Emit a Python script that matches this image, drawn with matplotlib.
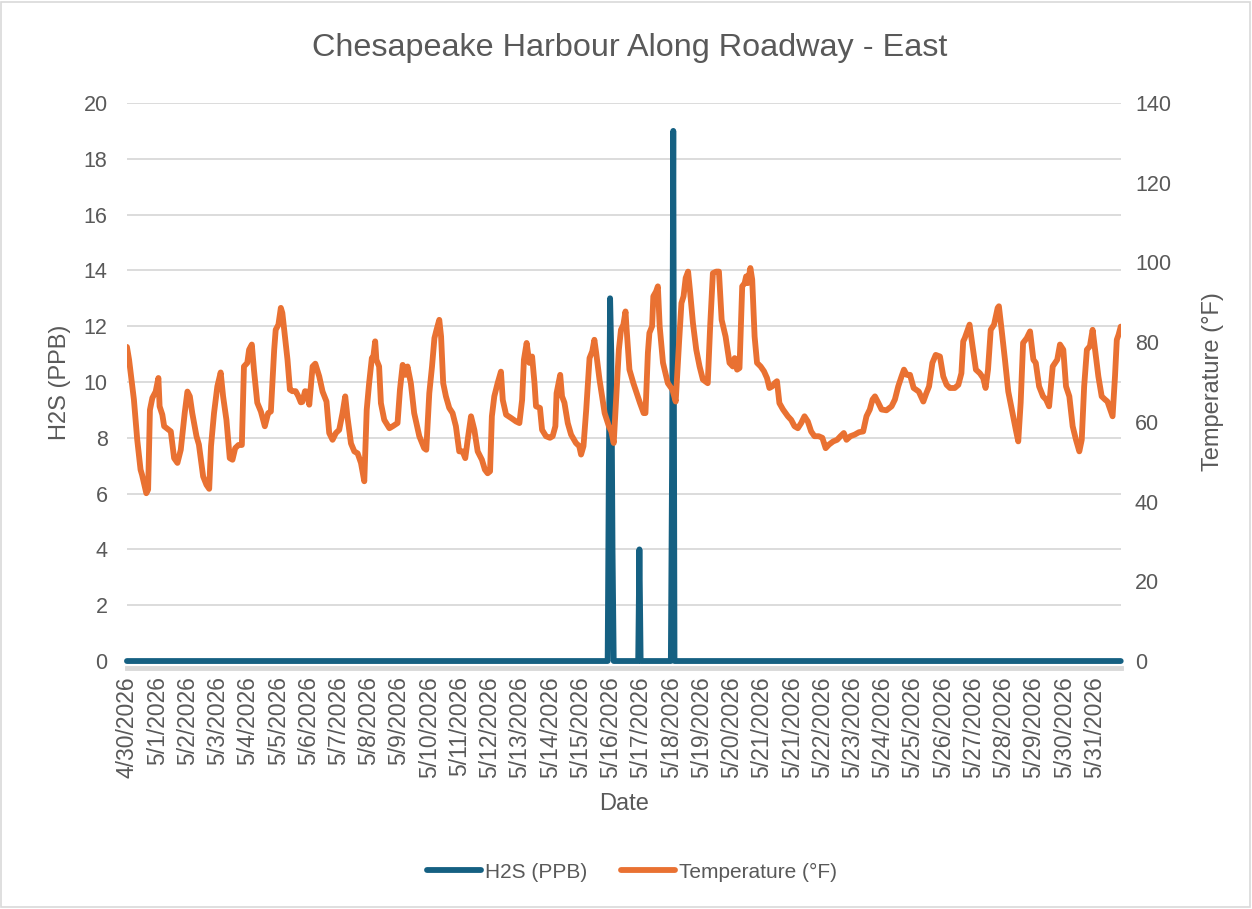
import numpy as np
import matplotlib
matplotlib.use("Agg")
import matplotlib.pyplot as plt
from matplotlib.patches import Rectangle

# x axis categories (one label per day)
day_labels = ["4/30/2026"] + ["5/%d/2026" % d for d in range(1, 22)] + ["5/21/2026"] + ["5/%d/2026" % d for d in range(22, 32)]

# temperature readings: time in days from first reading, value in F
temp_time = [
    0.00, 0.07, 0.23, 0.34, 0.45, 0.50, 0.64, 0.70, 0.76, 0.84, 0.95, 1.04, 1.08, 1.17, 1.23, 1.45,
    1.56, 1.67, 1.78, 1.91, 2.00, 2.08, 2.16, 2.30, 2.38, 2.52, 2.63, 2.72, 2.78, 2.88, 2.99, 3.10,
    3.18, 3.29, 3.40, 3.49, 3.58, 3.69, 3.80, 3.87, 3.98, 4.04, 4.13, 4.20, 4.31, 4.43, 4.56, 4.67,
    4.76, 4.87, 4.92, 5.01, 5.09, 5.14, 5.20, 5.31, 5.39, 5.47, 5.58, 5.67, 5.75, 5.80, 5.89, 5.95,
    6.03, 6.14, 6.23, 6.36, 6.47,
    6.60, 6.69, 6.80, 6.91, 7.02, 7.13, 7.22, 7.29, 7.41, 7.52, 7.63, 7.74, 7.85, 7.93, 8.01, 8.10,
    8.15, 8.21, 8.25, 8.34, 8.40, 8.51, 8.68, 8.79, 8.95, 9.03, 9.12, 9.21, 9.28, 9.39, 9.50, 9.67,
    9.83, 9.90, 10.00, 10.09, 10.17, 10.24, 10.33, 10.39, 10.46, 10.55, 10.66, 10.77, 10.88, 10.99,
    11.10, 11.19, 11.27, 11.38, 11.49, 11.60, 11.74, 11.84, 11.93, 12.01, 12.07, 12.15, 12.26, 12.37,
    12.43, 12.54, 12.70, 12.87, 12.98,
    13.07, 13.13, 13.22, 13.31, 13.40, 13.48, 13.53, 13.66, 13.73, 13.86, 13.99, 14.08, 14.17, 14.21,
    14.33, 14.39, 14.47, 14.58, 14.69, 14.85, 14.96, 15.02, 15.10, 15.19, 15.30, 15.39, 15.46, 15.52,
    15.63, 15.80, 15.94, 16.02, 16.10, 16.18, 16.27, 16.34, 16.42, 16.49, 16.52, 16.62, 16.75, 16.86,
    16.97, 17.09, 17.15, 17.23, 17.28, 17.37, 17.41, 17.50, 17.56, 17.62, 17.73, 17.89, 18.04, 18.15,
    18.26, 18.34, 18.41, 18.48, 18.56, 18.63, 18.72, 18.83, 18.94, 19.05, 19.21, 19.29, 19.38, 19.49,
    19.58, 19.67,
    19.80, 19.93, 20.04, 20.10, 20.18, 20.26, 20.35, 20.43, 20.48, 20.53, 20.62, 20.68, 20.76, 20.84,
    20.96, 21.07, 21.17, 21.25, 21.34, 21.42, 21.50, 21.58, 21.70, 21.86, 21.97, 22.08, 22.19, 22.30,
    22.41, 22.52, 22.63, 22.74, 22.88, 23.00, 23.11, 23.22, 23.36, 23.49, 23.60, 23.71, 23.80, 23.93,
    24.07, 24.21, 24.35, 24.46, 24.57, 24.66, 24.74, 24.85, 24.96, 25.12, 25.29, 25.40, 25.51, 25.62,
    25.70, 25.79, 25.90, 26.02, 26.19,
    26.34, 26.44, 26.53, 26.64, 26.75, 26.89, 27.00, 27.11, 27.22, 27.38, 27.50, 27.60, 27.66, 27.71,
    27.87, 27.97, 28.08, 28.21, 28.32, 28.40, 28.48, 28.57, 28.68, 28.80, 28.84, 28.93, 29.04, 29.15,
    29.30, 29.40, 29.48, 29.56, 29.64, 29.76, 29.87, 29.98, 30.06, 30.17, 30.30, 30.40, 30.50, 30.62,
    30.77, 30.86, 30.97, 31.06, 31.17, 31.28, 31.39, 31.50, 31.58, 31.66, 31.75, 31.85, 31.94, 32.02,
    32.13, 32.24, 32.35, 32.43, 32.60, 32.68, 32.74, 32.80, 32.87,
]
temp_f = [
    78.8, 75.6, 65.6, 55.5, 48.0, 46.7, 42.1, 43.0, 63.0, 66.0, 67.6, 71.0, 63.9, 61.8, 58.9, 57.6,
    50.9, 49.7, 53.0, 62.2, 67.6, 66.4, 62.2, 56.4, 54.3, 46.3, 44.2, 43.2, 53.9, 62.2, 68.9, 72.4,
    66.4, 60.5, 50.9, 50.5, 53.4, 54.2, 54.2, 73.9, 74.8, 78.1, 79.4, 73.1, 64.8, 62.6, 58.9, 62.2,
    62.6, 78.1, 83.1, 84.4, 88.6, 87.3, 83.1, 75.6, 68.1, 67.7, 67.7, 66.4, 64.9, 65.0, 67.7, 67.6,
    64.3, 73.9, 74.6, 71.4, 67.6,
    65.1, 57.2, 55.5, 57.2, 58.0, 62.2, 66.4, 61.4, 54.6, 52.6, 52.1, 49.7, 45.1, 63.0, 69.7, 76.0,
    76.4, 80.2, 75.6, 73.9, 64.7, 60.5, 58.4, 58.9, 59.7, 68.1, 74.3, 71.8, 73.9, 69.7, 62.2, 56.4,
    53.4, 53.0, 67.2, 73.9, 81.0, 83.1, 85.6, 81.4, 69.7, 66.4, 63.5, 62.2, 58.9, 52.6,
    52.6, 50.9, 55.5, 61.4, 58.0, 52.6, 50.5, 48.0, 47.1, 47.6, 61.4, 66.4, 69.7, 72.6,
    65.5, 61.8, 61.0, 60.1, 59.7,
    65.5, 75.6, 79.8, 74.8, 76.4, 69.7, 63.9, 63.5, 58.0, 56.4, 56.0, 56.4, 58.9, 67.2,
    71.8, 66.4, 64.8, 59.7, 56.8, 54.7, 53.9, 51.8, 53.9, 63.0, 76.0, 77.7, 80.6, 77.3,
    70.6, 62.2, 58.9, 57.6, 54.7, 65.5, 78.1, 83.1, 84.4, 87.7, 84.0, 73.1, 69.7, 67.2,
    64.7, 62.2, 62.2, 77.3, 82.3, 84.0, 91.5, 92.7, 94.0, 84.0, 74.8, 69.7, 68.1, 65.1,
    79.8, 89.8, 91.5, 96.1, 97.7, 92.3, 84.8, 78.1, 73.9, 70.6, 69.7, 84.0, 97.3, 97.7,
    97.7, 85.6,
    81.4, 74.8, 73.9, 76.0, 73.1, 73.5, 94.0, 94.8, 96.5, 94.8, 98.6, 95.7, 81.4, 74.8,
    73.9, 72.7, 71.0, 68.5, 68.9, 69.7, 70.2, 64.7, 63.1, 61.4, 60.5, 58.9, 58.4, 59.7,
    61.4, 60.1, 57.6, 56.4, 56.4, 56.0, 53.4, 54.3, 55.1, 55.5, 56.4, 57.2, 55.5, 56.4,
    56.8, 57.4, 57.6, 61.4, 63.1, 65.6, 66.4, 64.8, 63.1, 62.9, 63.9, 65.6, 68.9, 71.4,
    73.1, 71.8, 71.8, 68.5, 67.6,
    65.1, 67.2, 68.9, 74.8, 76.8, 76.4, 71.4, 69.3, 68.5, 68.5, 69.3, 72.2, 80.2, 81.0,
    84.4, 78.9, 73.1, 72.2, 71.0, 68.5, 73.1, 83.1, 84.4, 88.6, 89.0, 83.1, 75.6, 67.6,
    61.8, 58.0, 55.1, 64.8, 79.8, 81.0, 82.7, 75.6, 74.8, 68.9, 66.4, 65.6, 63.9, 73.9,
    75.6, 79.4, 78.1, 68.9, 66.4, 58.9, 55.5, 52.6, 55.5, 68.9, 78.1, 79.0, 83.1, 78.1,
    71.4, 66.4, 65.6, 65.1, 61.4, 71.4, 80.6, 81.9, 83.9,
]

# H2S readings (ppb): zero except a few short events
h2s_time = [0.00, 15.90, 15.94, 15.98, 16.02, 16.06, 16.10, 16.91, 16.95, 16.99,
            17.99, 18.03, 18.07, 18.11, 32.87]
h2s_ppb = [0, 0, 7, 13, 11, 4, 0, 0, 4, 0,
           0, 7, 19, 0, 0]

blue = "#156082"
orange = "#E97132"
grey_text = "#595959"
grid_col = "#D9D9D9"
font = ["Liberation Sans", "DejaVu Sans"]
plt.rcParams["font.family"] = font

fig = plt.figure(figsize=(12.52, 9.09), dpi=100)
fig.patches.append(Rectangle((0.0005, 0.002), 0.998, 0.996, transform=fig.transFigure,
                             fill=False, edgecolor=grid_col, linewidth=1.2))
ax = fig.add_axes([0.1014, 0.2728, 0.7940, 0.6139])
ax2 = ax.twinx()

l1, = ax.plot(h2s_time, h2s_ppb, color=blue, linewidth=4.2, solid_joinstyle="round",
              solid_capstyle="round", label="H2S (PPB)", zorder=3, clip_on=False)
l2, = ax2.plot(temp_time, temp_f, color=orange, linewidth=4.2, solid_joinstyle="round",
               solid_capstyle="round", label="Temperature (°F)", zorder=3)

ax.set_xlim(0, 32.88)
ax.set_ylim(0, 20)
ax.set_yticks(np.arange(0, 21, 2))
ax2.set_ylim(0, 140)
ax2.set_yticks(np.arange(0, 141, 20))
ax.set_xticks(range(len(day_labels)))
ax.set_xticklabels(day_labels)

ax.grid(axis="y", color=grid_col, linewidth=1.3)
ax.set_axisbelow(True)
for a in (ax, ax2):
    for s in a.spines.values():
        s.set_visible(False)
    a.tick_params(length=0, labelsize=15.5, labelcolor=grey_text)
ax.spines["bottom"].set_visible(True)
ax.spines["bottom"].set_color(grid_col)
ax.spines["bottom"].set_linewidth(3.5)
ax.spines["bottom"].set_position(("outward", 5))
ax.tick_params(axis="x", pad=6, labelsize=16.5, labelrotation=90)
ax.tick_params(axis="y", pad=14)
ax2.tick_params(axis="y", pad=10)

ax.set_xlabel("Date", fontsize=17, color=grey_text, labelpad=11)
ax.set_ylabel("H2S (PPB)", fontsize=17, color=grey_text, labelpad=9)
ax2.set_ylabel("Temperature (°F)", fontsize=17, color=grey_text, labelpad=22)
fig.text(0.503, 0.947, "Chesapeake Harbour Along Roadway - East", ha="center", va="center",
         fontsize=23.3, color=grey_text)

fig.legend(handles=[l1, l2], loc="center", bbox_to_anchor=(0.505, 0.0407), ncol=2,
           frameon=False, fontsize=15, labelcolor=grey_text, handlelength=2.6,
           handletextpad=0.2, columnspacing=1.6)

fig.savefig("out.png", dpi=100)
